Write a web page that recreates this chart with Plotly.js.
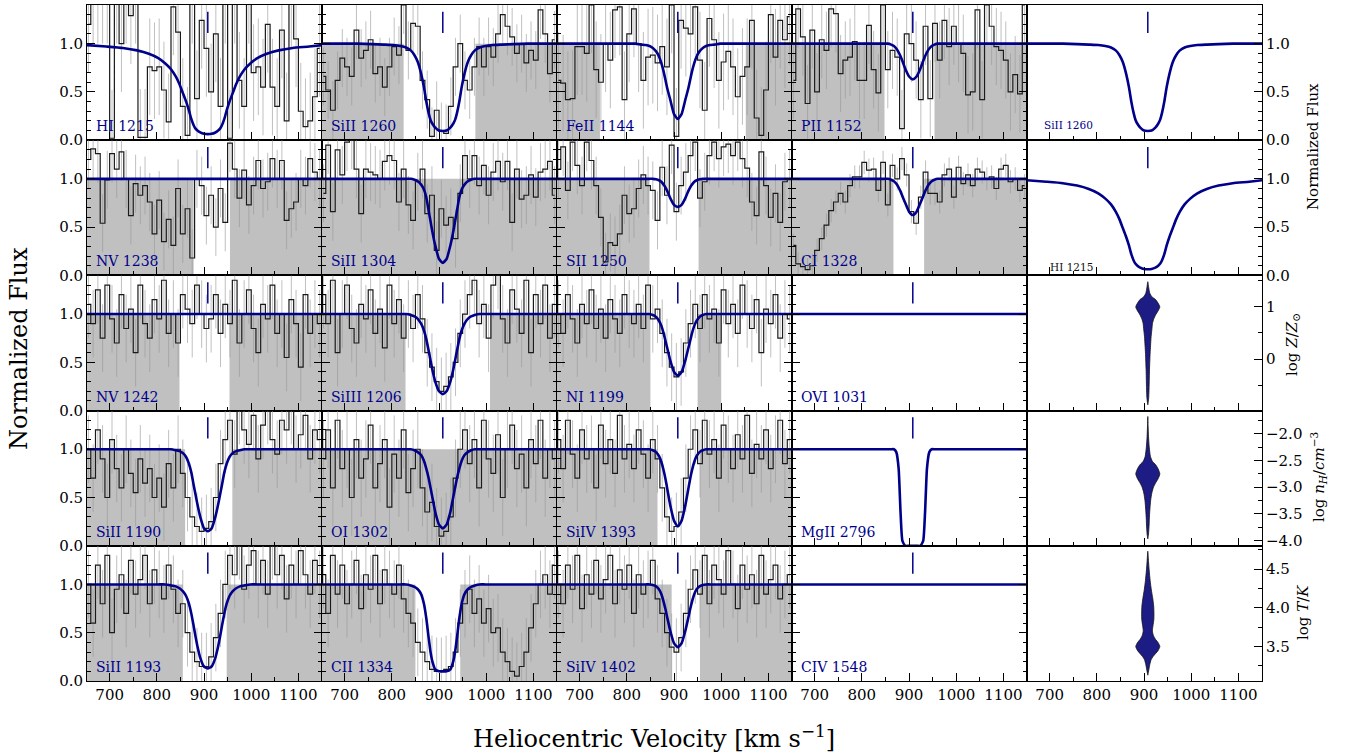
<!DOCTYPE html>
<html><head><meta charset="utf-8">
<script src="https://cdn.plot.ly/plotly-3.0.1.min.js"></script>
<style>html,body{margin:0;padding:0;background:#fff;}#chart{width:1352px;height:755px;}</style>
</head><body><div id="chart"></div>
<script>
// ---------------- DATA ----------------
const velocityBins = [655,665,675,685,695,705,715,725,735,745,755,765,775,785,795,805,815,825,835,845,855,865,875,885,895,905,915,925,935,945,955,965,975,985,995,1005,1015,1025,1035,1045,1055,1065,1075,1085,1095,1105,1115,1125,1135,1145];
const componentVelocity = 908;

const specHI1215 = [1.2,1.5,1.5,1.5,1.5,0.02,1.5,1.0,1.5,1.29,1.5,0.03,0.03,0.76,0.72,0.76,0.52,0.19,1.38,1.12,0.35,0.05,1.5,0.43,1.24,0.95,0.5,1.1,0.35,1.5,0.02,1.5,0.62,0.35,1.5,0.7,0.76,0.55,1.2,0.55,0.35,1.14,0.2,1.45,1.05,0.3,0.14,0.2,0.45,0.95];
const specSiII1260 = [0.66,0.52,0.31,0.62,0.85,0.76,0.66,1.14,0.85,0.93,1.04,0.69,0.76,0.55,0.76,0.97,0.88,1.4,0.93,1.21,1.18,0.62,0.42,0.04,0.31,0.09,0.07,0.35,0.76,1.0,0.62,0.52,0.76,0.97,0.76,0.97,0.86,1.1,1.3,1.18,1.07,0.9,1.0,0.8,0.93,0.83,1.35,1.1,0.69,1.04];
const specFeII1144 = [0.62,0.59,0.42,0.43,0.97,0.97,0.9,1.4,0.73,0.6,1.0,0.83,1.35,1.38,0.42,1.1,1.36,1.0,0.62,0.86,0.88,0.8,0.97,0.76,1.4,0.04,1.24,1.16,1.1,1.38,0.83,0.31,1.26,1.04,0.62,0.81,0.92,0.76,0.45,0.66,0.76,1.24,0.23,0.05,0.52,1.3,0.86,1.24,1.04,1.28];
const specPII1152 = [0.62,1.36,1.07,0.38,1.14,0.5,1.04,0.93,1.36,1.31,0.69,0.83,0.86,1.02,0.62,0.62,1.19,0.73,0.49,1.4,0.73,0.93,0.86,0.12,1.1,1.0,0.83,0.42,1.18,0.43,1.21,0.83,1.24,0.97,1.18,1.0,0.9,0.47,0.5,1.35,0.42,1.4,1.18,0.97,0.93,0.83,0.5,0.68,0.48,1.4];
const specNV1238 = [1.2,1.31,1.26,0.54,0.99,1.26,1.1,1.28,1.0,0.62,0.95,0.83,0.93,0.76,0.43,0.78,0.35,0.58,0.31,0.9,0.43,0.69,0.18,1.0,0.93,0.62,0.83,0.5,0.9,0.55,1.37,1.1,0.8,1.09,0.73,0.93,1.19,0.9,0.97,1.21,1.0,1.19,0.57,0.69,0.76,1.0,0.93,1.21,1.07,1.0];
const specSiII1304 = [0.85,1.35,0.66,1.3,1.04,1.38,1.4,1.1,0.64,1.1,1.07,1.04,1.0,1.18,1.24,1.19,0.76,1.1,0.73,0.57,0.97,1.1,0.64,0.83,0.26,0.69,0.52,0.6,0.38,0.85,1.24,1.0,1.24,0.93,1.14,0.83,1.07,1.18,0.97,1.18,0.55,1.1,0.79,0.83,1.04,0.81,1.07,1.1,1.18,0.83];
const specSII1250 = [1.1,1.33,0.88,1.38,1.14,0.93,1.38,1.19,0.93,0.6,0.14,0.34,0.31,0.43,0.83,0.64,0.69,0.9,1.04,0.93,0.88,0.57,1.12,0.83,1.35,0.66,0.93,1.07,1.24,1.38,0.8,0.97,1.24,1.38,1.21,1.33,1.36,1.24,1.38,1.21,1.11,0.76,0.62,1.28,0.93,0.6,0.85,0.55,0.97,1.0];
const specCI1328 = [0.31,0.12,0.09,0.06,0.1,0.26,0.38,0.52,0.67,0.76,0.85,0.76,0.93,1.02,1.02,1.17,1.09,1.1,0.88,1.17,0.73,1.14,1.0,1.21,1.04,0.66,0.54,0.81,1.07,0.85,0.85,0.76,1.04,1.1,0.81,1.12,0.95,1.04,0.93,1.1,1.07,1.0,1.02,0.9,1.1,1.14,0.97,1.0,0.88,0.93];
const specNV1242 = [1.1,0.9,1.25,0.75,1.3,0.95,0.7,1.2,0.85,1.05,0.6,1.3,0.9,0.75,1.15,0.95,1.35,0.8,1.0,0.7,1.2,1.05,0.9,1.3,1.0,0.85,0.95,1.2,0.8,1.1,0.9,1.35,0.7,1.0,1.25,0.85,0.6,1.1,0.95,1.3,0.8,1.0,0.55,1.15,0.9,0.45,1.2,0.8,1.0,0.9];
const specSiIII1206 = [1.2,0.9,1.35,0.6,1.0,1.3,0.85,0.7,1.1,0.95,1.25,0.8,1.05,0.65,1.3,0.9,1.15,0.75,1.0,0.85,1.2,0.95,0.6,0.45,0.3,0.2,0.25,0.35,0.5,0.8,1.0,1.2,1.35,0.9,1.1,0.75,1.3,1.4,0.95,0.7,1.25,1.05,0.8,1.35,0.6,1.2,0.9,1.3,0.75,1.1];
const specNI1199 = [1.0,0.8,1.2,0.95,0.7,1.1,0.9,1.25,0.85,1.05,0.75,1.15,0.95,0.8,1.2,1.0,0.9,1.1,0.85,1.3,0.95,1.05,0.8,0.6,0.45,0.35,0.4,0.7,0.9,1.1,0.85,1.2,0.95,1.05,0.7,1.25,0.9,1.1,0.8,1.3,1.0,0.85,1.15,0.6,1.05,0.9,1.2,0.75,1.0,0.95];
const specSiII1190 = [1.0,0.7,1.2,0.9,0.5,1.1,0.8,0.6,1.0,0.75,0.55,0.9,0.65,0.8,0.5,0.7,0.4,0.85,0.6,1.0,0.75,0.5,0.3,0.2,0.15,0.18,0.25,0.5,0.85,1.1,1.3,0.95,1.4,1.2,1.05,1.35,0.9,1.25,1.4,1.1,0.95,1.3,1.2,1.4,1.0,1.15,1.35,0.9,1.2,1.1];
const specOI1302 = [0.9,1.2,0.6,1.3,0.8,1.0,0.5,1.1,0.7,0.9,1.25,0.6,0.85,1.1,0.4,0.95,0.7,1.2,0.55,0.8,1.0,0.6,0.35,0.45,0.2,0.1,0.15,0.3,0.7,1.0,1.2,0.85,1.1,0.6,1.3,0.9,0.75,1.15,0.5,1.0,1.25,0.8,0.95,0.6,1.1,0.85,1.3,0.7,1.0,0.9];
const specSiIV1393 = [1.1,0.8,1.3,0.95,0.7,1.2,0.9,1.0,0.6,1.25,0.85,1.1,0.75,1.35,0.9,1.05,0.8,1.2,0.95,0.7,1.1,0.9,0.6,0.3,0.15,0.2,0.35,0.7,1.0,1.2,0.85,1.3,0.95,1.1,0.7,1.25,1.0,0.8,1.15,0.9,1.35,0.75,1.05,0.9,1.2,0.8,1.0,1.3,0.85,1.1];
const specSiII1193 = [1.0,0.6,1.2,0.8,1.3,0.5,0.95,1.1,0.7,1.25,0.9,1.05,1.3,0.8,1.15,1.0,0.85,1.2,0.95,0.7,0.8,0.5,0.3,0.2,0.15,0.15,0.25,0.45,0.7,1.0,1.3,1.1,1.4,0.95,1.2,1.35,1.0,1.25,0.9,1.4,1.1,1.3,0.85,1.2,1.0,1.35,1.1,0.9,1.25,1.0];
const specCII1334 = [1.1,0.7,1.3,0.9,1.2,0.8,1.0,1.25,0.75,1.1,0.95,1.3,0.8,1.15,1.0,0.9,1.2,0.85,0.7,0.6,0.4,0.3,0.2,0.12,0.1,0.1,0.12,0.15,0.3,0.6,0.8,0.95,0.7,0.85,0.6,0.75,0.5,0.55,0.3,0.2,0.1,0.05,0.15,0.3,0.55,0.8,1.0,1.1,0.9,1.2];
const specSiIV1402 = [1.0,0.8,1.2,0.95,1.3,0.75,1.1,0.9,1.25,0.85,1.05,1.3,0.8,1.15,0.95,1.2,0.7,1.1,0.9,1.0,1.25,0.85,0.7,0.5,0.35,0.3,0.45,0.7,0.95,1.15,0.9,1.3,0.8,1.2,1.05,0.9,1.35,1.0,0.75,1.2,0.95,1.1,0.8,1.3,0.9,1.05,1.2,0.85,1.0,1.1];

// model profiles
const vModel = [652,693,728,758,783,803,818,830,840,848,855,862,868,873,878,882,886,892,900,908,916,924,930,934,938,943,948,954,961,968,976,986,998,1013,1033,1058,1088,1123,1150];
const modelHI1215 = [0.985,0.97,0.955,0.93,0.895,0.85,0.795,0.735,0.66,0.58,0.49,0.40,0.31,0.22,0.155,0.12,0.10,0.08,0.066,0.063,0.066,0.08,0.10,0.12,0.155,0.22,0.31,0.40,0.49,0.58,0.66,0.735,0.795,0.85,0.895,0.93,0.955,0.97,0.985];
const modelSiII1260 = [1.0,1.0,1.0,0.995,0.99,0.985,0.975,0.96,0.93,0.88,0.81,0.69,0.55,0.40,0.28,0.21,0.17,0.13,0.10,0.096,0.10,0.13,0.17,0.21,0.28,0.40,0.55,0.69,0.81,0.88,0.93,0.96,0.975,0.985,0.99,0.995,1.0,1.0,1.0];
const modelFeII1144 = [1,1,1,1,1,1,1,0.99,0.985,0.975,0.955,0.92,0.87,0.80,0.71,0.62,0.53,0.42,0.27,0.22,0.27,0.42,0.53,0.62,0.71,0.80,0.87,0.92,0.955,0.975,0.985,0.99,1,1,1,1,1,1,1];
const modelPII1152 = [1,1,1,1,1,1,1,1,1,1,1,0.99,0.975,0.95,0.91,0.87,0.82,0.74,0.66,0.63,0.66,0.74,0.82,0.87,0.91,0.95,0.975,0.99,1,1,1,1,1,1,1,1,1,1,1];
const modelFlat = [1,1,1,1,1,1,1,1,1,1,1,1,1,1,1,1,1,1,1,1,1,1,1,1,1,1,1,1,1,1,1,1,1,1,1,1,1,1,1];
const modelSiII1304 = [1,1,1,1,1,1,1,1,1,0.99,0.975,0.94,0.89,0.81,0.67,0.56,0.45,0.31,0.17,0.13,0.17,0.31,0.45,0.56,0.67,0.81,0.89,0.94,0.975,0.99,1,1,1,1,1,1,1,1,1];
const modelSII1250 = [1,1,1,1,1,1,1,1,1,1,1,0.995,0.985,0.97,0.94,0.91,0.87,0.80,0.73,0.71,0.73,0.80,0.87,0.91,0.94,0.97,0.985,0.995,1,1,1,1,1,1,1,1,1,1,1];
const modelCI1328 = [1,1,1,1,1,1,1,1,1,1,1,0.99,0.975,0.95,0.91,0.87,0.82,0.75,0.66,0.625,0.66,0.75,0.82,0.87,0.91,0.95,0.975,0.99,1,1,1,1,1,1,1,1,1,1,1];
const modelSiIII1206 = [1,1,1,1,1,1,1,1,0.99,0.975,0.95,0.9,0.83,0.74,0.62,0.52,0.42,0.3,0.2,0.17,0.2,0.3,0.42,0.52,0.62,0.74,0.83,0.9,0.95,0.975,0.99,1,1,1,1,1,1,1,1];
const modelNI1199 = [1,1,1,1,1,1,1,1,1,1,0.99,0.97,0.93,0.88,0.8,0.72,0.64,0.52,0.4,0.36,0.4,0.52,0.64,0.72,0.8,0.88,0.93,0.97,0.99,1,1,1,1,1,1,1,1,1,1];
const modelSiII1190 = [1,1,1,1,1,1,1,1,0.99,0.98,0.96,0.92,0.85,0.76,0.63,0.53,0.43,0.3,0.18,0.15,0.18,0.3,0.43,0.53,0.63,0.76,0.85,0.92,0.96,0.98,0.99,1,1,1,1,1,1,1,1];
const modelOI1302 = [1,1,1,1,1,1,1,1,1,0.99,0.97,0.94,0.88,0.8,0.7,0.6,0.5,0.35,0.22,0.18,0.22,0.35,0.5,0.6,0.7,0.8,0.88,0.94,0.97,0.99,1,1,1,1,1,1,1,1,1];
const modelSiIV1393 = [1,1,1,1,1,1,1,1,1,1,0.99,0.97,0.93,0.87,0.78,0.69,0.58,0.42,0.26,0.2,0.26,0.42,0.58,0.69,0.78,0.87,0.93,0.97,0.99,1,1,1,1,1,1,1,1,1,1];
const modelMgII2796 = [1,1,1,1,1,1,1,1,1,1,1,1,1,0.97,0.8,0.35,0.05,0,0,0,0,0,0.05,0.35,0.8,0.97,1,1,1,1,1,1,1,1,1,1,1,1,1];
const modelSiII1193 = [1,1,1,1,1,1,1,0.99,0.98,0.96,0.93,0.88,0.8,0.7,0.57,0.46,0.36,0.24,0.15,0.13,0.15,0.24,0.36,0.46,0.57,0.7,0.8,0.88,0.93,0.96,0.98,0.99,1,1,1,1,1,1,1];
const modelCII1334 = [1,1,1,1,1,1,1,1,0.99,0.975,0.95,0.9,0.8,0.65,0.45,0.3,0.2,0.12,0.1,0.1,0.1,0.12,0.2,0.3,0.45,0.65,0.8,0.9,0.95,0.975,0.99,1,1,1,1,1,1,1,1];
const modelSiIV1402 = [1,1,1,1,1,1,1,1,1,1,0.995,0.98,0.95,0.9,0.82,0.74,0.65,0.52,0.39,0.35,0.39,0.52,0.65,0.74,0.82,0.9,0.95,0.98,0.995,1,1,1,1,1,1,1,1,1,1];

// masked (grey) velocity ranges
const maskHI1215 = [];
const maskSiII1260 = [[652,825],[977,1150]];
const maskFeII1144 = [[652,743],[1052,1150]];
const maskPII1152 = [[652,848],[954,1150]];
const maskNV1238 = [[652,878],[955,1150]];
const maskSiII1304 = [[652,1150]];
const maskSII1250 = [[652,848],[952,1150]];
const maskCI1328 = [[652,867],[932,1150]];
const maskNV1242 = [[652,848],[954,1150]];
const maskSiIII1206 = [[652,829],[1008,1150]];
const maskNI1199 = [[652,850],[950,1000]];
const maskSiII1190 = [[652,860],[960,1150]];
const maskOI1302 = [[652,1150]];
const maskSiIV1393 = [[652,865],[955,1150]];
const maskSiII1193 = [[652,855],[948,1150]];
const maskCII1334 = [[652,850],[945,1150]];
const maskSiIV1402 = [[652,895],[955,1150]];

// posterior violins (value, half-width in km/s)
const metallicityGrid = [1.47,1.35,1.25,1.18,1.13,1.06,0.99,0.92,0.84,0.76,0.68,0.55,0.43,0.25,0.11,-0.2,-0.52,-0.75,-0.87];
const metallicityWidth = [0,2,4.3,9,16.6,22,25.5,22,16.6,12.5,10,8.5,7,5.8,4.9,3.6,2.8,1.8,0];
const densityGrid = [-1.675,-1.85,-2.05,-2.25,-2.43,-2.52,-2.58,-2.66,-2.75,-2.84,-2.92,-3.0,-3.11,-3.25,-3.43,-3.6,-3.74,-3.88,-3.97];
const densityWidth = [0,0.6,1.5,3,5.7,10,16.6,22,25.5,22,16.6,12,8.5,6,4.3,3.2,2.6,1.5,0];
const temperatureGrid = [4.73,4.6,4.49,4.35,4.23,4.12,4.02,3.93,3.85,3.77,3.70,3.64,3.59,3.55,3.50,3.45,3.41,3.37,3.33,3.27,3.22,3.13];
const temperatureWidth = [0,1.5,2.8,5,7.5,10.5,12.5,13,12.8,11,9.6,12,16.6,22,25.5,22,16.6,11,7,4.3,2.8,0];

const panelLabels = ['HI 1215','SiII 1260','FeII 1144','PII 1152','NV 1238','SiII 1304','SII 1250','CI 1328','NV 1242','SiIII 1206','NI 1199','OVI 1031','SiII 1190','OI 1302','SiIV 1393','MgII 2796','SiII 1193','CII 1334','SiIV 1402','CIV 1548'];
const panelSpectra = [specHI1215,specSiII1260,specFeII1144,specPII1152,specNV1238,specSiII1304,specSII1250,specCI1328,specNV1242,specSiIII1206,specNI1199,null,specSiII1190,specOI1302,specSiIV1393,null,specSiII1193,specCII1334,specSiIV1402,null];
const panelErrors = [0.5,0.3,0.5,0.4,0.3,0.3,0.3,0.12,0.35,0.35,0.35,0,0.35,0.4,0.35,0,0.35,0.35,0.35,0];
const panelModels = [modelHI1215,modelSiII1260,modelFeII1144,modelPII1152,modelFlat,modelSiII1304,modelSII1250,modelCI1328,modelFlat,modelSiIII1206,modelNI1199,modelFlat,modelSiII1190,modelOI1302,modelSiIV1393,modelMgII2796,modelSiII1193,modelCII1334,modelSiIV1402,modelFlat];
const panelMasks = [maskHI1215,maskSiII1260,maskFeII1144,maskPII1152,maskNV1238,maskSiII1304,maskSII1250,maskCI1328,maskNV1242,maskSiIII1206,maskNI1199,[],maskSiII1190,maskOI1302,maskSiIV1393,[],maskSiII1193,maskCII1334,maskSiIV1402,[]];

// ---------------- STYLE / LAYOUT ----------------
const W = 1352, H = 755;
const FONT = 'DejaVu Serif, serif';
const NAVY = '#00008b';
const colLeft = [87,322,557,792,1027], colW = 235;
const rowTop = [5,140.2,275.4,410.6,545.8], rowH = 135.2;
const markY = [1.11,1.33];

const layout = {
  width: W, height: H, margin: {l:0,r:0,t:0,b:0},
  paper_bgcolor: '#fff', plot_bgcolor: '#fff', showlegend: false, hovermode: false,
  font: {family: FONT, size: 15, color: '#000'},
  shapes: [], annotations: []
};
const traces = [];

function sfx(n){ return n === 1 ? '' : String(n); }

for (let r = 0; r < 5; r++) {
  for (let c = 0; c < 5; c++) {
    const n = r*5 + c + 1, s = sfx(n);
    layout['xaxis'+s] = {
      domain: [colLeft[c]/W, (colLeft[c]+colW)/W], anchor: 'y'+s,
      range: [652,1150], showgrid: false, zeroline: false,
      showline: true, linecolor: '#000', linewidth: 1, mirror: true,
      ticks: 'inside', ticklen: 8, tickwidth: 1, tickcolor: '#000',
      tick0: 0, dtick: 100,
      minor: {ticks: 'inside', ticklen: 4, tick0: 0, dtick: 50, tickcolor: '#000', showgrid: false},
      showticklabels: r === 4, tickfont: {family: FONT, size: 15, color: '#000'}
    };
    const ya = {
      domain: [1-(rowTop[r]+rowH)/H, 1-rowTop[r]/H], anchor: 'x'+s,
      showgrid: false, zeroline: false, showline: true, linecolor: '#000', linewidth: 1,
      ticks: 'inside', ticklen: 8, tickwidth: 1, tickcolor: '#000',
      tickfont: {family: FONT, size: 15, color: '#000'}
    };
    if (c < 4 || r < 2) {
      Object.assign(ya, {range: [0,1.4], tick0: 0, dtick: 0.5, tickformat: '.1f',
        minor: {ticks: 'inside', ticklen: 4, tick0: 0, dtick: 0.1, tickcolor: '#000', showgrid: false}});
    }
    if (c < 4) {
      Object.assign(ya, {mirror: 'ticks', side: 'left', showticklabels: c === 0});
    } else {
      Object.assign(ya, {mirror: true, side: 'right', showticklabels: true});
      if (r === 2) Object.assign(ya, {range: [-0.98,1.59], tick0: 0, dtick: 1, tickformat: 'd',
        minor: {ticks: 'inside', ticklen: 4, tick0: 0, dtick: 0.5, tickcolor: '#000', showgrid: false}});
      if (r === 3) Object.assign(ya, {range: [-4.1,-1.565], tick0: -4, dtick: 0.5, tickformat: '.1f',
        minor: {ticks: 'inside', ticklen: 4, tick0: -4, dtick: 0.25, tickcolor: '#000', showgrid: false}});
      if (r === 4) Object.assign(ya, {range: [3.055,4.80], tick0: 3.5, dtick: 0.5, tickformat: '.1f',
        minor: {ticks: 'inside', ticklen: 4, tick0: 3.5, dtick: 0.25, tickcolor: '#000', showgrid: false}});
    }
    layout['yaxis'+s] = ya;

    if (c < 4) {
      const p = r*4 + c;
      panelMasks[p].forEach(m => layout.shapes.push({
        type: 'rect', xref: 'x'+s, yref: 'y'+s, x0: m[0], x1: m[1], y0: 0, y1: 1,
        fillcolor: '#c0c0c0', line: {width: 0}, layer: 'below'
      }));
      if (panelSpectra[p]) {
        traces.push({x: velocityBins, y: panelSpectra[p], xaxis: 'x'+s, yaxis: 'y'+s, type: 'scatter', mode: 'lines',
          line: {shape: 'hvh', color: '#1a1a1a', width: 1.2},
          error_y: {type: 'constant', value: panelErrors[p], color: 'rgba(150,150,150,0.6)', thickness: 1, width: 0}});
      }
      traces.push({x: vModel, y: panelModels[p], xaxis: 'x'+s, yaxis: 'y'+s, type: 'scatter', mode: 'lines',
        line: {color: NAVY, width: 2.6, shape: 'spline', smoothing: 0.5}});
      traces.push({x: [componentVelocity, componentVelocity], y: markY, xaxis: 'x'+s, yaxis: 'y'+s, type: 'scatter', mode: 'lines',
        line: {color: NAVY, width: 1.5}});
      layout.annotations.push({xref: 'x'+s+' domain', yref: 'y'+s, x: 0.03, y: 0.145, text: panelLabels[p],
        showarrow: false, xanchor: 'left', yanchor: 'middle', font: {family: FONT, size: 14, color: NAVY}});
    }
  }
}

// column 5: models & posteriors
const col5Models = [[modelSiII1260,'SiII 1260',NAVY],[modelHI1215,'HI 1215','#111']];
col5Models.forEach((m, r) => {
  const s = sfx(r*5 + 5);
  traces.push({x: vModel, y: m[0], xaxis: 'x'+s, yaxis: 'y'+s, type: 'scatter', mode: 'lines',
    line: {color: NAVY, width: 2.6, shape: 'spline', smoothing: 0.5}});
  traces.push({x: [componentVelocity, componentVelocity], y: markY, xaxis: 'x'+s, yaxis: 'y'+s, type: 'scatter', mode: 'lines',
    line: {color: NAVY, width: 1.5}});
  layout.annotations.push({xref: 'x'+s+' domain', yref: 'y'+s, x: r === 0 ? 0.064 : 0.09, y: r === 0 ? 0.16 : 0.09, text: m[1],
    showarrow: false, xanchor: 'left', yanchor: 'middle', font: {family: FONT, size: 10.5, color: m[2]}});
});
const violins = [[metallicityGrid, metallicityWidth],[densityGrid, densityWidth],[temperatureGrid, temperatureWidth]];
violins.forEach((v, k) => {
  const s = sfx((k+2)*5 + 5);
  const xs = [], ys = [];
  v[0].forEach((y, i) => { xs.push(componentVelocity + v[1][i]); ys.push(y); });
  for (let i = v[0].length - 1; i >= 0; i--) { xs.push(componentVelocity - v[1][i]); ys.push(v[0][i]); }
  traces.push({x: xs, y: ys, xaxis: 'x'+s, yaxis: 'y'+s, type: 'scatter', mode: 'lines', fill: 'toself',
    fillcolor: '#1c1c84', line: {color: '#111', width: 0.8, shape: 'spline', smoothing: 0.6}});
});

// axis titles
function ann(text, xpx, ypx, size, angle) {
  layout.annotations.push({xref: 'paper', yref: 'paper', x: xpx/W, y: 1 - ypx/H, text: text, showarrow: false,
    xanchor: 'center', yanchor: 'middle', textangle: angle, font: {family: FONT, size: size, color: '#000'}});
}
ann('Normalized Flux', 19, 349, 24, -90);
ann('Heliocentric Velocity [km s<sup>−1</sup>]', 654, 737, 24, 0);
ann('Normalized Flux', 1313, 147, 15, -90);
ann('log <i>Z</i>/<i>Z</i><sub>⊙</sub>', 1292, 345, 15, -90);
ann('log <i>n<sub>H</sub></i>/<i>cm</i><sup>−3</sup>', 1318, 477, 15, -90);
ann('log <i>T</i>/<i>K</i>', 1303, 613, 15, -90);

Plotly.newPlot('chart', traces, layout, {staticPlot: true, displayModeBar: false});
</script>
</body></html>
